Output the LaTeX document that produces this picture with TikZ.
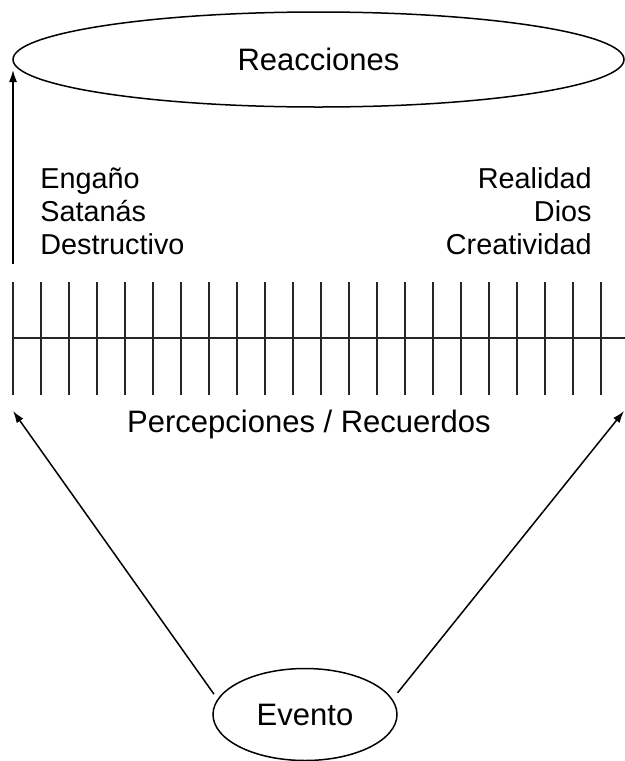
\documentclass[tikz,border=0pt]{standalone}
\usepackage{fontspec}
\setmainfont{Liberation Sans}
\usepackage{tikz}
\usetikzlibrary{arrows.meta}
\usetikzlibrary{shapes.geometric}
\tikzstyle{oval}=[ellipse, draw=black, line width=.75pt, inner sep=0pt]
\tikzstyle{lbl}=[inner sep=0pt, font=\fontsize{15.5}{18}\selectfont]
\tikzstyle{side}=[inner sep=0pt, font=\fontsize{14.4}{16.5}\selectfont]
\tikzstyle{arr}=[-{Latex[length=6pt,width=4pt]}, line width=.75pt]
\tikzstyle{tick}=[line width=.55pt, draw=black!85]

\begin{document}
\begin{tikzpicture}[x=.5pt, y=-.5pt]
    \useasboundingbox (0,0) rectangle (625,761);

    % ellipses
    \node[oval, lbl, minimum width=305.5pt, minimum height=47.5pt] (reac) at (318.5,59.5) {Reacciones};
    \node[oval, lbl, minimum width=92pt, minimum height=46pt] (evento) at (305,714.5) {Evento};

    % scale
    \foreach \i in {0,...,21}{
      \draw[tick] (13+28*\i, 282) -- (13+28*\i, 395);
    }
    \draw[tick] (13, 338) -- (625, 338);

    % labels
    \foreach \t [count=\k] in {Engaño, Satanás, Destructivo}{
      \node[side, anchor=base west] (izq\k) at (40, 155+33*\k) {\t};
    }
    \foreach \t [count=\k] in {Realidad, Dios, Creatividad}{
      \node[side, anchor=base east] (der\k) at (592, 155+33*\k) {\t};
    }
    \node[lbl] (perc) at (309,424) {Percepciones / Recuerdos};

    % arrows
    \coordinate (pizq) at (13,411);
    \coordinate (pder) at (624,411);
    \coordinate (rbase) at (13,264);
    \coordinate (rtop) at (13,70);
    \draw[arr, shorten <=3pt] (evento.170) -- (pizq);
    \draw[arr, shorten <=4pt] (evento.10) -- (pder);
    \draw[arr] (rbase) -- (rtop);

  \end{tikzpicture}
\end{document}
